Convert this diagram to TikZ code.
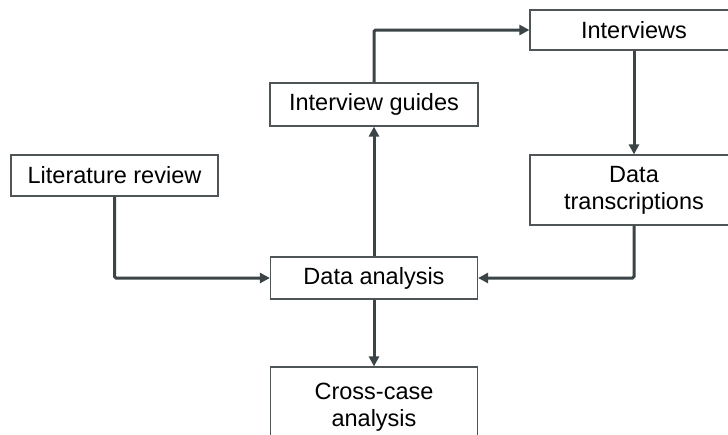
\documentclass[tikz,border=0pt]{standalone}
\usepackage{fontspec}
\setmainfont{Liberation Sans}
\usetikzlibrary{arrows.meta}
\definecolor{linec}{HTML}{3B4547}
\definecolor{boxc}{HTML}{4F5556}
\begin{document}
\begin{tikzpicture}[x=1pt,y=-1pt,
  box/.style={draw=boxc, line width=1.2pt, fill=white, inner sep=0pt, minimum width=208pt, align=center, font=\fontsize{23.5}{27}\selectfont},
  conn/.style={draw=linec, line width=3pt, -{Triangle[length=10pt,width=10pt]}, rounded corners=1.5pt}]
\useasboundingbox (0,0) rectangle (728,434);
\clip (0,0) rectangle (728,434);
\fill[white] (0,0) rectangle (728,434);
\node[box, minimum height=43pt] (guides) at (374,104.5) {Interview guides};
\node[box, minimum height=40pt] (interviews) at (634,30) {Interviews};
\node[box, minimum height=70pt] (trans) at (634,190) {Data\\transcriptions};
\node[box, minimum height=41pt, minimum width=207pt] (lit) at (114.5,175.5) {Literature review};
\node[box, minimum height=42pt, minimum width=207pt] (analysis) at (374,278) {Data analysis};
\node[box, minimum height=80pt, minimum width=207pt] (cross) at (374,407) {Cross-case\\analysis};
\draw[conn] (guides.north) |- (interviews.west);
\draw[conn] (interviews.south) -- (trans.north);
\draw[conn] (trans.south) |- (analysis.east);
\draw[conn] (lit.south) |- (analysis.west);
\draw[conn] (analysis.north) -- (guides.south);
\draw[conn] (analysis.south) -- (cross.north);
\end{tikzpicture}
\end{document}
